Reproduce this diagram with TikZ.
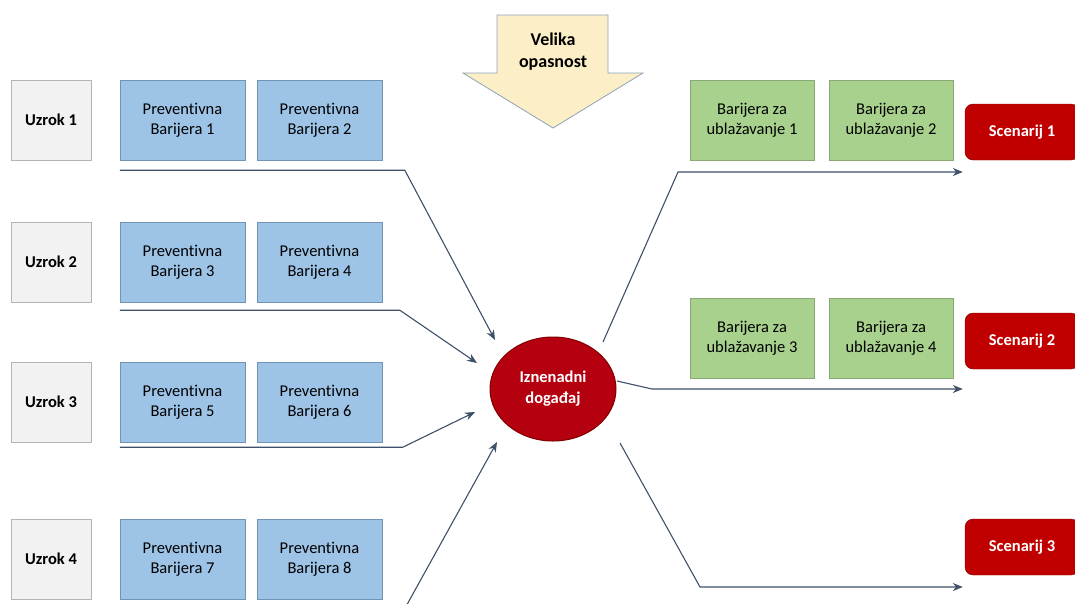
\documentclass[tikz,border=0pt]{standalone}
\usepackage{fontspec}
\setmainfont{Carlito}[Ligatures=NoCommon]
\usetikzlibrary{arrows.meta}
\definecolor{uzrokfill}{HTML}{F2F2F2}
\definecolor{uzrokline}{HTML}{B4B4B4}
\definecolor{prevfill}{HTML}{9DC3E6}
\definecolor{prevline}{HTML}{7393B5}
\definecolor{ublfill}{HTML}{A9D18E}
\definecolor{ublline}{HTML}{8AA876}
\definecolor{scenfill}{HTML}{C00000}
\definecolor{eventfill}{HTML}{B5000F}
\definecolor{eventline}{HTML}{800000}
\definecolor{hazfill}{HTML}{FCEFC7}
\definecolor{hazline}{HTML}{8FA1B8}
\definecolor{vezacol}{HTML}{3E5068}
\tikzset{
  uzrok/.style={draw=uzrokline, fill=uzrokfill, minimum width=80pt, minimum height=80pt,
    font=\fontsize{16.5}{19}\selectfont\bfseries},
  prev/.style={draw=prevline, fill=prevfill, minimum width=125pt, minimum height=80pt,
    align=center, font=\fontsize{16.5}{20}\selectfont},
  ublaz/.style={draw=ublline, fill=ublfill, minimum width=124pt, minimum height=80pt,
    align=center, font=\fontsize{16.5}{20}\selectfont},
  scen/.style={draw=eventline, fill=scenfill, rounded corners=8pt, minimum width=114pt,
    minimum height=56pt, text=white, font=\fontsize{16.5}{19}\selectfont\bfseries},
  veza/.style={draw=vezacol, line width=1.1pt, -{Stealth[length=10pt,width=8pt]}}
}
\begin{document}
\begin{tikzpicture}[x=1pt,y=-1pt]
      \useasboundingbox (0,0) rectangle (1075,603);
      % opasnost
      \draw[hazline, fill=hazfill, line width=0.8pt]
        (497,15) -- (608,15) -- (608,73) -- (643,73) -- (553,128) -- (463,73) -- (497,73) -- cycle;
      \node[align=center, font=\fontsize{18}{22}\selectfont\bfseries] (haz) at (553,52) {Velika\\opasnost};
      % uzroci i preventivne barijere
      \draw
        (51,120) node[uzrok] (u1){Uzrok 1}
        (51,262) node[uzrok] (u2){Uzrok 2}
        (51,402) node[uzrok] (u3){Uzrok 3}
        (51,559) node[uzrok] (u4){Uzrok 4}
        (182.5,120) node[prev] (p1){Preventivna\\Barijera 1}
        (319.5,120) node[prev] (p2){Preventivna\\Barijera 2}
        (182.5,262) node[prev] (p3){Preventivna\\Barijera 3}
        (319.5,262) node[prev] (p4){Preventivna\\Barijera 4}
        (182.5,402) node[prev] (p5){Preventivna\\Barijera 5}
        (319.5,402) node[prev] (p6){Preventivna\\Barijera 6}
        (182.5,559) node[prev] (p7){Preventivna\\Barijera 7}
        (319.5,559) node[prev] (p8){Preventivna\\Barijera 8};
      % dogadjaj
      \draw[eventline, fill=eventfill, line width=1pt] (553,389) ellipse [x radius=63, y radius=52];
      \node[align=center, text=white, font=\fontsize{16.5}{21}\selectfont\bfseries] (ev) at (553,389) {Iznenadni\\događaj};
      % barijere za ublazavanje i scenariji
      \draw
        (752,120) node[ublaz] (g1){Barijera za\\ublažavanje 1}
        (891,120) node[ublaz] (g2){Barijera za\\ublažavanje 2}
        (752,338) node[ublaz] (g3){Barijera za\\ublažavanje 3}
        (891,338) node[ublaz] (g4){Barijera za\\ublažavanje 4}
        (1022,132) node[scen] (s1){Scenarij 1}
        (1022,341) node[scen] (s2){Scenarij 2}
        (1022,547) node[scen] (s3){Scenarij 3};
      \coordinate (t1) at (495,340);
      \coordinate (t2) at (477,363);
      \coordinate (t3) at (475,412);
      \coordinate (t4) at (497,442);
      \coordinate (r1) at (603,342);
      \coordinate (r2) at (617,381);
      \coordinate (r3) at (620,443);
      \begin{scope}[veza]
        \draw ([yshift=-10pt]p1.south west) -- ++(285,0) -- (t1);
        \draw ([yshift=-8pt]p3.south west) -- ++(280,0) -- (t2);
        \draw ([yshift=-5pt]p5.south west) -- ++(283,0) -- (t3);
        \draw (404,610) -- (t4);
        \draw (r1) -- (678,172) -- ([xshift=-2pt,yshift=-40pt]s1.west);
        \draw (r2) -- (652,389) -- ([xshift=-2pt,yshift=-48pt]s2.west);
        \draw (r3) -- (700,587) -- ([xshift=-2pt,yshift=-40pt]s3.west);
      \end{scope}
    \end{tikzpicture}
\end{document}
